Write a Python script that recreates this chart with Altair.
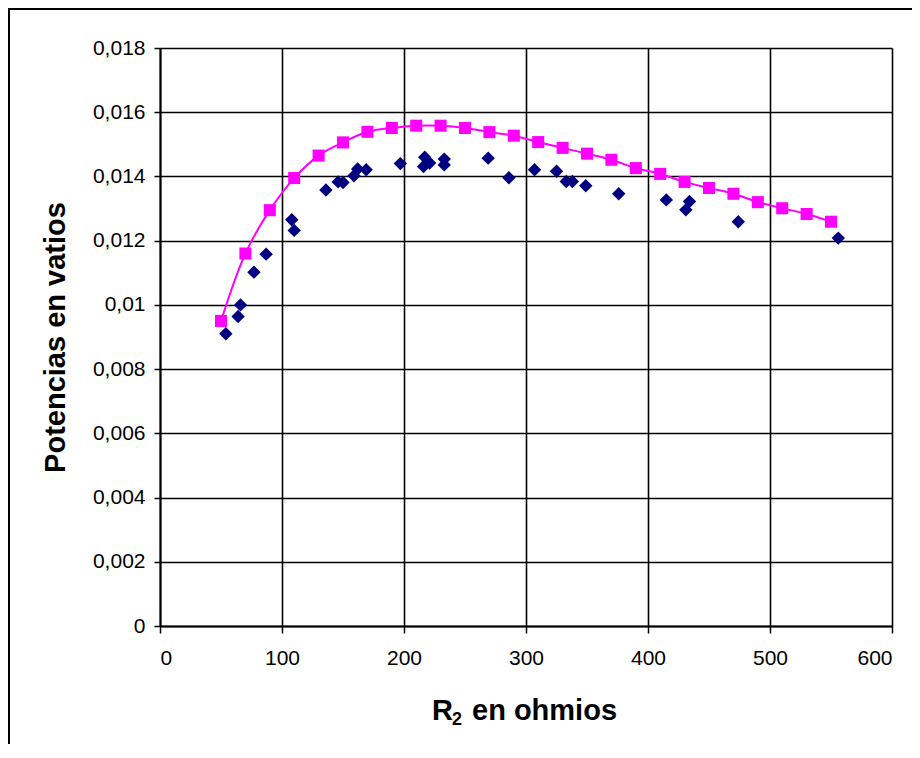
import altair as alt
import pandas as pd

# Theoretical curve (magenta squares)
r_teo = [50, 70, 90, 110, 130, 150, 170, 190, 210, 230, 250, 270, 290, 310,
         330, 350, 370, 390, 410, 430, 450, 470, 490, 510, 530, 550]
p_teo = [0.0095, 0.0116, 0.01295, 0.01395, 0.01465, 0.01506, 0.01539, 0.01551,
         0.01558, 0.01558, 0.01551, 0.01538, 0.01527, 0.01507, 0.01489, 0.01471,
         0.01452, 0.01426, 0.01408, 0.01383, 0.01364, 0.01346, 0.0132, 0.01301,
         0.01283, 0.01259]

# Experimental points (navy diamonds)
r_exp = [54, 64, 66, 77, 87, 108, 110, 136, 146, 150, 159, 162, 169, 197,
         217, 216, 221, 233, 233, 269, 286, 307, 325, 333, 338, 349, 376,
         415, 434, 431, 474, 556]
p_exp = [0.0091, 0.00964, 0.0100, 0.01102, 0.01158, 0.01265, 0.01232, 0.01358,
         0.01383, 0.01381, 0.01402, 0.01423, 0.01421, 0.0144, 0.0146, 0.01431,
         0.01442, 0.01454, 0.01436, 0.01457, 0.01396, 0.01421, 0.01416, 0.01384,
         0.01384, 0.01371, 0.01346, 0.01327, 0.01322, 0.01296, 0.01259, 0.01208]

x_ticks = [0, 100, 200, 300, 400, 500, 600]
y_ticks = [0, 0.002, 0.004, 0.006, 0.008, 0.01, 0.012, 0.014, 0.016, 0.018]

# x-axis title pieces: "R", subscript "2", " en ohmios"
x_title_parts = ["R", "2", "en ohmios"]

W, H = 732, 578
PL, PT, PR, PB = 152, 40, 20, 118

teo = pd.DataFrame({"r": r_teo, "p": p_teo})
exp = pd.DataFrame({"r": r_exp, "p": p_exp})

FONT = "Liberation Sans"

x_scale = alt.Scale(domain=[0, 600], nice=False, zero=True)
y_scale = alt.Scale(domain=[0, 0.018], nice=False)

common_axis = dict(grid=True, gridColor="black", gridWidth=1.6, gridOpacity=1,
                   labelFontSize=21, labelFont=FONT, labelColor="black",
                   tickColor="black", tickWidth=1.5,
                   domainColor="black", domainWidth=2)

x_axis = alt.Axis(values=x_ticks, title=None, labelPadding=14, tickSize=7,
                  format="d", **common_axis)
y_axis = alt.Axis(values=y_ticks, title="Potencias en vatios",
                  labelPadding=9, tickSize=6,
                  labelExpr="replace(format(datum.value, '.3~f'), '.', ',')",
                  titleFontSize=29, titleFont=FONT, titleFontWeight="bold",
                  titleColor="black", titlePadding=22, **common_axis)

base_teo = alt.Chart(teo).encode(
    x=alt.X("r:Q", scale=x_scale, axis=x_axis),
    y=alt.Y("p:Q", scale=y_scale, axis=y_axis),
)

line = base_teo.mark_line(color="#FF00FF", strokeWidth=2, interpolate="catmull-rom")
squares = base_teo.mark_point(shape="square", filled=True, size=145,
                              color="#FF00FF", opacity=1)

diamonds = alt.Chart(exp).mark_point(shape="diamond", filled=True, size=180,
                                     color="#000080", opacity=1).encode(
    x=alt.X("r:Q", scale=x_scale),
    y=alt.Y("p:Q", scale=y_scale),
)

one = pd.DataFrame({"a": [0]})
frame_top = alt.Chart(one).mark_rule(color="black", strokeWidth=2).encode(
    x=alt.value(-PL), x2=alt.value(W + PR), y=alt.value(-PT + 1))
frame_left = alt.Chart(one).mark_rule(color="black", strokeWidth=2).encode(
    x=alt.value(-PL + 1), y=alt.value(-PT), y2=alt.value(H + PB))

t_r = alt.Chart(one).mark_text(text=x_title_parts[0], font=FONT, fontSize=29,
                               fontWeight="bold", align="left", baseline="alphabetic",
                               color="black").encode(
    x=alt.value(272), y=alt.value(672))
t_2 = alt.Chart(one).mark_text(text=x_title_parts[1], font=FONT, fontSize=18,
                               fontWeight="bold", align="left", baseline="alphabetic",
                               color="black").encode(
    x=alt.value(292), y=alt.value(677))
t_rest = alt.Chart(one).mark_text(text=x_title_parts[2], font=FONT, fontSize=29,
                                  fontWeight="bold", align="left", baseline="alphabetic",
                                  color="black").encode(
    x=alt.value(312), y=alt.value(672))

chart = alt.layer(line, squares, diamonds, frame_top, frame_left,
                  t_r, t_2, t_rest).properties(
    width=W, height=H,
    autosize=alt.AutoSizeParams(type="none"),
    padding={"left": PL, "top": PT, "right": PR, "bottom": PB},
).configure_view(
    stroke="#808080", strokeWidth=2
).configure(background="white")

chart.save("out.html", embed_options={"renderer": "svg", "actions": False})
